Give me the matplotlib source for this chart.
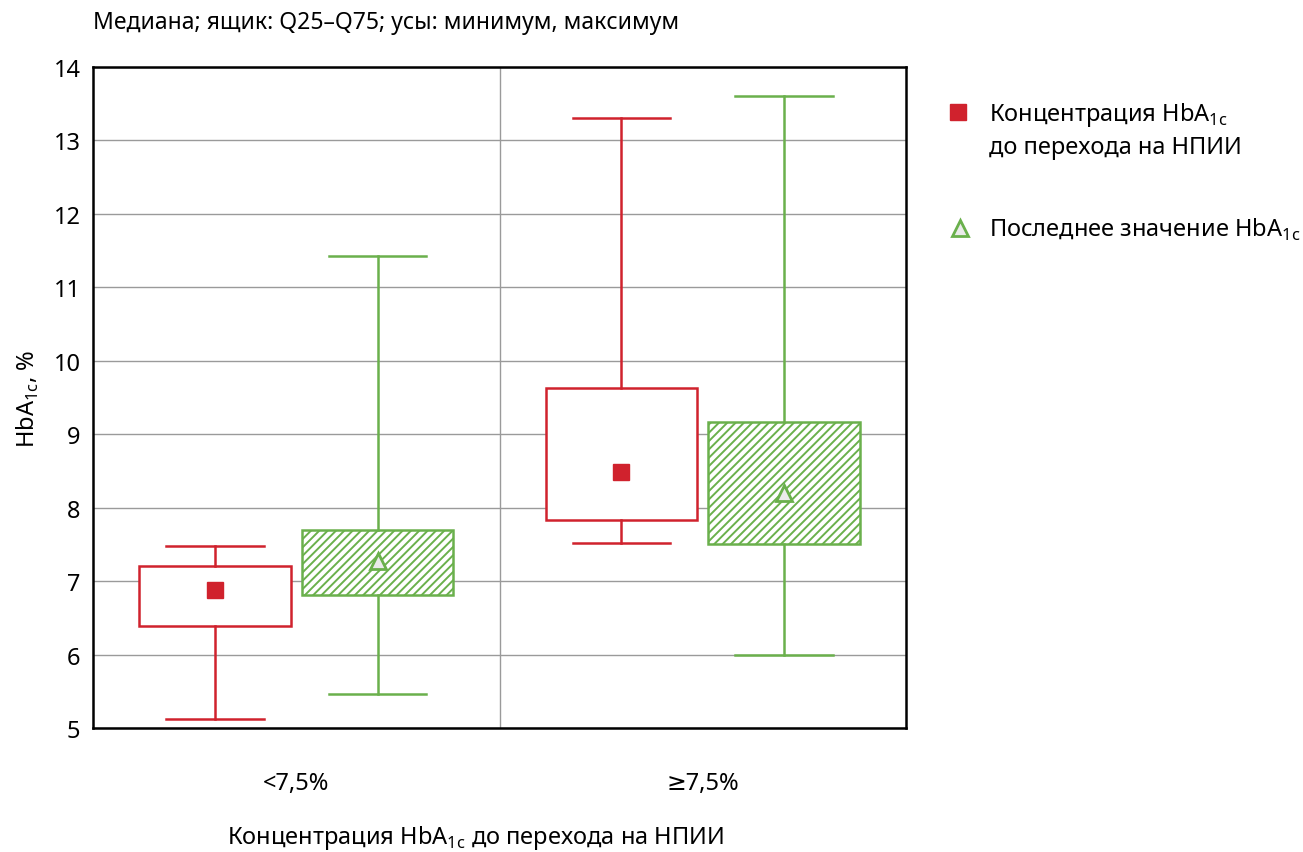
import matplotlib
matplotlib.use("Agg")
import matplotlib.pyplot as plt

plt.rcParams['font.family'] = ['Noto Sans', 'DejaVu Sans']
plt.rcParams['mathtext.fontset'] = 'custom'
plt.rcParams['mathtext.rm'] = 'Noto Sans'
plt.rcParams['hatch.linewidth'] = 1.4

# data
groups = ['<7,5%', '≥7,5%']
before_min = [5.12, 7.52]
before_q25 = [6.39, 7.83]
before_med = [6.88, 8.49]
before_q75 = [7.20, 9.63]
before_max = [7.48, 13.31]

last_min = [5.46, 6.00]
last_q25 = [6.81, 7.51]
last_med = [7.27, 8.20]
last_q75 = [7.70, 9.16]
last_max = [11.42, 13.61]

RED = '#d0222d'
GREEN = '#6ab04c'
FS = 17


def make_stats(lo, q1, med, q3, hi):
    return [dict(whislo=a, q1=b, med=c, q3=d, whishi=e, fliers=[])
            for a, b, c, d, e in zip(lo, q1, med, q3, hi)]


fig = plt.figure(figsize=(13.03, 8.53), dpi=100)
ax = fig.add_axes([0.0714, 0.1454, 0.6239, 0.7749])

centers = [0.5, 1.5]
red_pos = [c - 0.2 for c in centers]
green_pos = [c + 0.2 for c in centers]

lw = 1.8
red_stats = make_stats(before_min, before_q25, before_med, before_q75, before_max)
green_stats = make_stats(last_min, last_q25, last_med, last_q75, last_max)

ax.bxp(red_stats, positions=red_pos, widths=0.372, capwidths=0.24,
       showfliers=False, patch_artist=True,
       boxprops=dict(facecolor='white', edgecolor=RED, linewidth=lw),
       whiskerprops=dict(color=RED, linewidth=lw),
       capprops=dict(color=RED, linewidth=lw),
       medianprops=dict(visible=False), zorder=3)
ax.bxp(green_stats, positions=green_pos, widths=0.372, capwidths=0.24,
       showfliers=False, patch_artist=True,
       boxprops=dict(facecolor='white', edgecolor=GREEN, linewidth=lw, hatch='////'),
       whiskerprops=dict(color=GREEN, linewidth=lw),
       capprops=dict(color=GREEN, linewidth=lw),
       medianprops=dict(visible=False), zorder=3)

ax.plot(red_pos, before_med, linestyle='none', marker='s', markersize=11,
        color=RED, zorder=5)
ax.plot(green_pos, last_med, linestyle='none', marker='^', markersize=12,
        markerfacecolor='#ebebeb', markeredgecolor=GREEN, markeredgewidth=2, zorder=5)

ax.set_xlim(0, 2)
ax.set_ylim(5, 14)
ax.set_yticks(range(5, 15))
ax.set_xticks(centers)
ax.set_xticklabels(groups)
ax.tick_params(axis='both', length=0, labelsize=FS)
ax.tick_params(axis='x', pad=31)
ax.tick_params(axis='y', pad=9)
ax.yaxis.grid(True, color='#9a9a9a', linewidth=1)
ax.axvline(1, color='#9a9a9a', linewidth=1, zorder=1)
ax.set_axisbelow(True)
for s in ax.spines.values():
    s.set_linewidth(1.8)

ax.set_ylabel('HbA$_{\\mathregular{1c}}$, %', fontsize=FS, labelpad=9)
ax.set_xlabel('Концентрация HbA$_{\\mathregular{1c}}$ до перехода на НПИИ',
              fontsize=FS, labelpad=20, x=0.47)

fig.text(0.0714, 0.973, 'Медиана; ящик: Q25–Q75; усы: минимум, максимум',
         fontsize=16.5, va='center', ha='left')

# legend drawn by hand, to the right of the axes
ax.plot([2.128], [13.39], marker='s', markersize=11, color=RED,
        clip_on=False, linestyle='none')
ax.plot([2.133], [11.81], marker='^', markersize=12, markerfacecolor='#ebebeb',
        markeredgecolor=GREEN, markeredgewidth=2, clip_on=False, linestyle='none')
ax.text(2.204, 13.28, 'Концентрация HbA$_{\\mathregular{1c}}$',
        fontsize=FS, va='baseline', ha='left', clip_on=False)
ax.text(2.204, 12.83, 'до перехода на НПИИ',
        fontsize=FS, va='baseline', ha='left', clip_on=False)
ax.text(2.204, 11.70, 'Последнее значение HbA$_{\\mathregular{1c}}$',
        fontsize=FS, va='baseline', ha='left', clip_on=False)

fig.savefig('out.png', dpi=100)
